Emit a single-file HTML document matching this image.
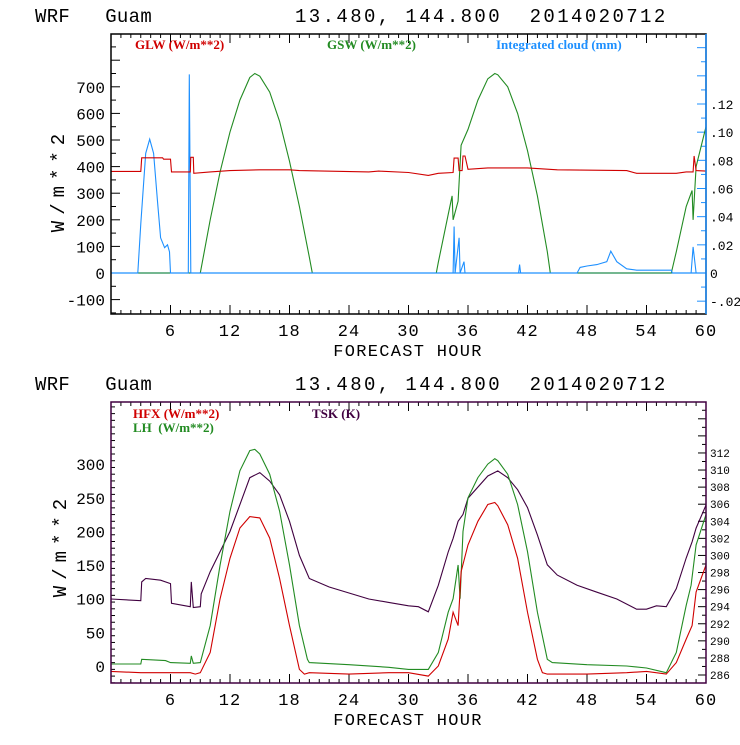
<!DOCTYPE html>
<html><head><meta charset="utf-8"><style>
body{margin:0;background:#fff}
svg text{font-family:"Liberation Mono",monospace;white-space:pre}
svg text.leg{font-family:"Liberation Serif",serif;font-weight:bold}
</style></head><body>
<svg id="s" width="740" height="740" xmlns="http://www.w3.org/2000/svg">
<rect width="740" height="740" fill="#fff"/>
</svg>
<script>
// ---- top panel data ----
const glwT=[0,3,3.1,5.2,5.3,6,6.1,8,8.05,8.3,8.35,10,12,15,18,19,26,27,30,32,33,34.5,34.6,35,35.1,35.4,35.5,35.7,36,38,42,45,52,53,57,58,58.7,58.8,59,60];
const glwV=[382,382,433,433,428,428,380,380,435,435,375,380,385,388,388,385,380,383,378,367,375,378,432,432,385,385,440,440,390,395,395,388,385,375,375,380,380,440,385,383];
const gswT=[0,9,10,11,12,13,14,14.5,15,16,17,18,19,20,20.3,32.8,33,34,34.4,34.5,35,35.3,36,37,38,38.7,39,40,41,42,43,44,44.3,56.5,57,58,58.6,58.7,59,60];
const gswV=[0,0,200,380,530,650,735,750,740,680,570,420,250,60,0,0,40,220,290,200,270,480,540,650,730,750,745,700,600,460,290,80,0,0,80,250,310,200,400,550];
const cldT=[0,2.7,3,3.5,3.9,4.3,4.7,5,5.4,5.7,5.9,6,7.8,7.9,8.05,34.5,34.6,34.7,35.1,35.2,35.6,35.7,41.1,41.2,41.3,47,47.3,48,49,49.5,50,50.4,51,52,53,56.5,56.6,58.5,58.7,59,60];
const cldV=[0,0,0.035,0.085,0.095,0.085,0.05,0.025,0.018,0.02,0.015,0,0,0.141,0,0,0.033,0,0.025,0,0.008,0,0,0.006,0,0,0.004,0.005,0.006,0.007,0.008,0.0155,0.008,0.003,0.002,0.002,0,0,0.0185,0,0];
const topLeftTicks=[-100,0,100,200,300,400,500,600,700];
const topRightTicks=[-0.02,0,0.02,0.04,0.06,0.08,0.10,0.12];
const topRightLabels=["-.02","0",".02",".04",".06",".08",".10",".12"];
// ---- bottom panel data ----
const tskT=[0,3,3.1,3.5,5,6,6.1,7.5,8,8.1,8.3,9,9.1,10,12,14,15,16,17,18,19,20,22,24,26,28,30,31,32,33,34,34.5,35,35.5,36,38,39,40,41,42,43,44,45,47,49,51,53,54,55,56,57,58,58.6,59,60];
const tskV=[294.9,294.7,296.9,297.3,297.1,296.7,294.4,294.1,294.0,296.9,293.9,294.0,295.5,298.1,302.8,309.1,309.7,308.7,307.1,304.0,300.0,297.3,296.3,295.6,294.9,294.5,294.1,294.0,293.4,296.5,300.4,302.0,304.0,304.8,306.7,309.3,309.9,309.1,307.7,305.6,302.4,298.9,297.7,296.5,295.7,294.9,293.7,293.7,294.1,294.0,296.1,299.7,301.6,303.2,305.9];
const lhT=[0,3,3.1,5.5,6,8,8.1,8.3,9,10,11,12,13,14,14.5,15,16,17,18,19,19.8,20,24,28,30,32,33,34,34.5,35,35.2,35.5,36,37,38,38.7,39,40,41,42,43,44,44.5,48,52,54,56,57,58,58.5,59,60];
const lhV=[3,3,10,8,5,4,15,4,5,60,150,230,290,320,322,315,285,230,150,60,10,5,2,-2,-5,-5,20,80,100,150,100,200,250,280,300,308,305,285,240,170,80,10,5,2,0,-3,-10,20,90,120,180,225];
const hfxT=[0,3,6,8,8.5,9,10,11,12,13,14,15,16,17,18,19,19.5,20,24,28,30,32,33,34,34.5,35,35.3,36,37,38,38.7,39,40,41,42,43,43.5,44,48,52,54,56,57,58,58.6,59,60];
const hfxV=[-8,-10,-10,-10,-12,-10,20,100,160,205,222,220,190,130,60,-5,-12,-10,-12,-10,-10,-15,0,40,80,60,140,180,215,240,243,238,210,160,80,10,-10,-12,-12,-10,-8,-12,5,40,60,110,150];
const botLeftTicks=[0,50,100,150,200,250,300];
const botRightTicks=[286,288,290,292,294,296,298,300,302,304,306,308,310,312];
const xTicks=[6,12,18,24,30,36,42,48,54,60];

const S=document.getElementById('s');
const NS='http://www.w3.org/2000/svg';
function mk(tag,attrs,parent){const e=document.createElementNS(NS,tag);for(const k in attrs)e.setAttribute(k,attrs[k]);(parent||S).appendChild(e);return e;}
function txt(x,y,s,size,fill,anchor,name,extra){const t=mk('text',Object.assign({x:x,y:y,'font-size':size,fill:fill,'text-anchor':anchor||'start'},extra||{}));t.textContent=s;


return t;}
const X0=111,X1=706;
function xs(h){return X0+(X1-X0)*h/60;}
function line(T,V,ys,color,name,g){let d='';for(let i=0;i<T.length;i++){d+=(i?'L':'M')+xs(T[i]).toFixed(1)+','+ys(V[i]).toFixed(1);}
const p=mk('path',{d:d,fill:'none',stroke:color,'stroke-width':1.1},g);

}

function panel(top,bot,name){
  const g=mk('g',{});
  
  
  txt(35,top-12,'WRF   Guam',19,'#000','start','title-left',{'letter-spacing':'0.3'});
  txt(295,top-12,'13.480, 144.800  2014020712',19,'#000','start','title-right',{'letter-spacing':'2.4'});
  for(let h=1;h<60;h++){const L=h%6==0?9:4;
    mk('line',{x1:xs(h),x2:xs(h),y1:bot,y2:bot-L,stroke:'#000'},g);
    mk('line',{x1:xs(h),x2:xs(h),y1:top,y2:top+L,stroke:'#000'},g);}
  xTicks.forEach(h=>txt(xs(h),bot+22,String(h),17,'#000','middle','x-tick-label',{'letter-spacing':'1'}));
  txt(408,bot+42,'FORECAST HOUR',17,'#000','middle','x-axis-title',{'letter-spacing':'1.3'});
  return g;
}
// ---- top panel ----
const tTop=34,tBot=314;
const yL=v=>273-v*0.266;
const yR=v=>273-v*(169/0.12);
const g1=panel(tTop,tBot,'top-panel');
for(let v=-150;v<=850;v+=50){const y=yL(v);if(y<tTop||y>tBot)continue;mk('line',{x1:X0,x2:X0+(v%100==0?9:5),y1:y,y2:y,stroke:'#000'},g1);}
topLeftTicks.forEach(v=>txt(X0-6,yL(v)+6,String(v),16,'#000','end','y-tick-label'));
for(let v=-0.02;v<=0.17;v+=0.01){const y=yR(v);if(y<tTop||y>tBot)continue;mk('line',{x1:X1,x2:X1-(Math.round(v*100)%2==0?9:5),y1:y,y2:y,stroke:'#1e90ff'},g1);}
topRightTicks.forEach((v,i)=>txt(X1+4,yR(v)+5,topRightLabels[i],13,'#000','start','y2-tick-label'));
txt(0,0,'W/m**2',19,'#000','middle','y-axis-title',{transform:'translate(64,180) rotate(-90)','letter-spacing':'6'});
mk('line',{x1:X0,x2:X1,y1:yL(0),y2:yL(0),stroke:'#1e90ff','stroke-width':1.2},g1);
line(gswT,gswV,yL,'#228b22','gsw-line',g1);
line(cldT,cldV,yR,'#1e90ff','cloud-line',g1);
line(glwT,glwV,yL,'#d00000','glw-line',g1);
mk('rect',{x:X0,y:tTop,width:X1-X0,height:tBot-tTop,fill:'none',stroke:'#000','stroke-width':1.5},g1);
mk('line',{x1:X1,x2:X1,y1:tTop,y2:tBot,stroke:'#1e90ff','stroke-width':1.5},g1);
txt(135,49,'GLW (W/m**2)',13,'#d00000','start','legend-glw',{'class':'leg'});
txt(327,49,'GSW (W/m**2)',13,'#228b22','start','legend-gsw',{'class':'leg'});
txt(496,49,'Integrated cloud (mm)',13,'#1e90ff','start','legend-cloud',{'class':'leg'});
// ---- bottom panel ----
const bTop=402,bBot=683;
const bL=v=>666-v*0.673;
const bR=v=>675-(v-286)*8.54;
const g2=panel(bTop,bBot,'bottom-panel');
for(let v=-25;v<=400;v+=10){const y=bL(v);if(y<bTop||y>bBot)continue;mk('line',{x1:X0,x2:X0+(v%50==0?9:4),y1:y,y2:y,stroke:'#000'},g2);}
botLeftTicks.forEach(v=>txt(X0-6,bL(v)+6,String(v),16,'#000','end','y-tick-label'));
for(let v=285;v<=318;v+=1){const y=bR(v);if(y<bTop||y>bBot)continue;mk('line',{x1:X1,x2:X1-(v%2==0?8:4),y1:y,y2:y,stroke:'#000'},g2);}
botRightTicks.forEach(v=>txt(X1+4,bR(v)+4,String(v),11,'#000','start','y2-tick-label'));
txt(0,0,'W/m**2',19,'#000','middle','y-axis-title',{transform:'translate(66,545) rotate(-90)','letter-spacing':'6'});
line(tskT,tskV,bR,'#400040','tsk-line',g2);
line(lhT,lhV,bL,'#228b22','lh-line',g2);
line(hfxT,hfxV,bL,'#d00000','hfx-line',g2);
mk('rect',{x:X0,y:bTop,width:X1-X0,height:bBot-bTop,fill:'none',stroke:'#400040','stroke-width':1.5},g2);
txt(133,418,'HFX (W/m**2)',13,'#d00000','start','legend-hfx',{'class':'leg'});
txt(133,432,'LH  (W/m**2)',13,'#228b22','start','legend-lh',{'class':'leg'});
txt(312,418,'TSK (K)',13,'#400040','start','legend-tsk',{'class':'leg'});
</script>
</body></html>
